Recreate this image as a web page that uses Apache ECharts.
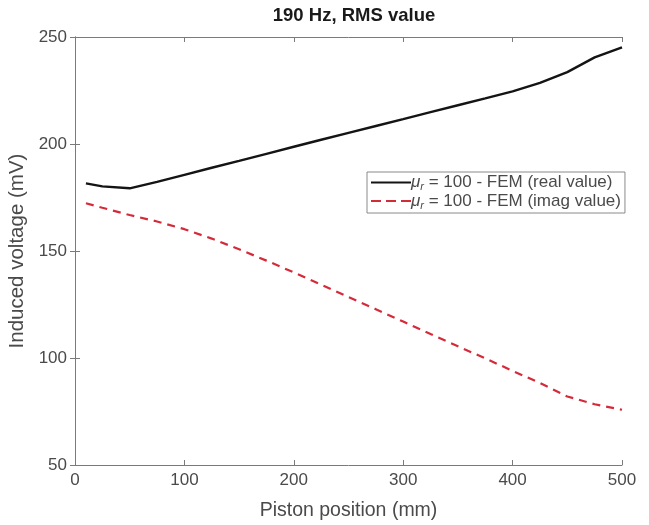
<!DOCTYPE html>
<html>
<head>
<meta charset="utf-8">
<script src="https://cdn.jsdelivr.net/npm/echarts@6/dist/echarts.min.js"></script>
<style>
  html, body { margin: 0; padding: 0; background: #fff; }
  #chart { width: 649px; height: 525px; }
</style>
</head>
<body>
<div id="chart"></div>
<script>
// Piston position (mm)
const positions = [10, 25, 50, 75, 100, 125, 150, 175, 200, 225, 250, 275, 300, 325, 350, 375, 400, 425, 450, 475, 500];
// Induced voltage (mV), real part
const realValues = [181.6, 180.2, 179.3, 182.3, 185.6, 188.9, 192.1, 195.4, 198.7, 202.0, 205.2, 208.4, 211.6, 214.9, 218.1, 221.3, 224.6, 228.6, 233.6, 240.5, 245.2];
// Induced voltage (mV), imaginary part
const imagValues = [172.3, 170.2, 166.8, 163.8, 160.2, 155.8, 150.8, 145.5, 140.0, 134.3, 128.5, 122.8, 117.0, 111.2, 105.5, 99.8, 94.0, 88.3, 82.0, 78.4, 75.8];

const realName = 'real';
const imagName = 'imag';

const pairs = (xs, ys) => xs.map((x, i) => [x, ys[i]]);

const font = 'Liberation Sans, Arial, Helvetica, sans-serif';
const axisColor = '#7a7a7a';
const textColor = '#4a4a4a';
const realColor = '#141414';
const imagColor = '#d42a3a';

const chart = echarts.init(document.getElementById('chart'), null, { renderer: 'canvas' });

const boxAxisX = (pos, showLabels) => ({
  type: 'value', position: pos, min: 0, max: 500, interval: 100,
  axisLine: { show: true, lineStyle: { color: axisColor, width: 1 } },
  axisTick: { show: true, inside: true, length: 5, lineStyle: { color: axisColor } },
  axisLabel: { show: showLabels, color: textColor, fontSize: 17, fontFamily: font, margin: 7 },
  splitLine: { show: false },
  name: showLabels ? 'Piston position (mm)' : '',
  nameLocation: 'middle', nameGap: 36,
  nameTextStyle: { color: textColor, fontSize: 19.5, fontFamily: font }
});

const boxAxisY = (pos, showLabels) => ({
  type: 'value', position: pos, min: 50, max: 250, interval: 50,
  axisLine: { show: true, lineStyle: { color: axisColor, width: 1 } },
  axisTick: { show: true, inside: true, length: 5, lineStyle: { color: axisColor } },
  axisLabel: { show: showLabels, color: textColor, fontSize: 17, fontFamily: font, margin: 8 },
  splitLine: { show: false },
  name: showLabels ? 'Induced voltage (mV)' : '',
  nameLocation: 'middle', nameGap: 44, nameRotate: 90,
  nameTextStyle: { color: textColor, fontSize: 20.5, fontFamily: font }
});

const legendRich = {
  mu: { fontSize: 17, fontFamily: font, fontStyle: 'italic', color: textColor },
  sub: { fontSize: 11, fontFamily: font, fontStyle: 'italic', color: textColor, padding: [9, 0, 0, 0] },
  t: { fontSize: 17, fontFamily: font, color: textColor }
};

const solidIcon = 'path://M0,0H40V2H0Z';
const dashIcon = 'path://M0,0H10V2H0Z M15,0H25V2H15Z M30,0H40V2H30Z';

chart.setOption({
  animation: false,
  backgroundColor: '#fff',
  title: {
    text: '190 Hz, RMS value',
    left: 349, top: 1, textAlign: 'center',
    textStyle: { fontSize: 18.5, fontWeight: 'bold', color: '#1a1a1a', fontFamily: font }
  },
  grid: { left: 75, right: 27, top: 37, bottom: 60, containLabel: false, outerBoundsMode: 'none' },
  xAxis: [boxAxisX('bottom', true), boxAxisX('top', false)],
  yAxis: [boxAxisY('left', true), boxAxisY('right', false)],
  legend: {
    orient: 'vertical',
    left: 367, top: 172,
    itemWidth: 40, itemHeight: 10, itemGap: 0,
    padding: [2, 4, 2, 4],
    backgroundColor: '#fff',
    borderColor: '#8a8a8a', borderWidth: 1,
    itemStyle: { borderWidth: 0 },
    lineStyle: { width: 0 },
    data: [
      { name: realName, icon: solidIcon },
      { name: imagName, icon: dashIcon }
    ],
    formatter: n => n === realName
      ? '{mu|μ}{sub|r}{t| = 100 - FEM (real value)}'
      : '{mu|μ}{sub|r}{t| = 100 - FEM (imag value)}',
    textStyle: { rich: legendRich, padding: [0, 0, 0, -5] }
  },
  series: [
    {
      name: realName, type: 'line', xAxisIndex: 0, yAxisIndex: 0,
      data: pairs(positions, realValues),
      showSymbol: false, symbol: 'none', smooth: false,
      lineStyle: { color: realColor, width: 2.4 },
      itemStyle: { color: realColor }
    },
    {
      name: imagName, type: 'line', xAxisIndex: 0, yAxisIndex: 0,
      data: pairs(positions, imagValues),
      showSymbol: false, symbol: 'none', smooth: false,
      lineStyle: { color: imagColor, width: 2.2, type: [8, 6] },
      itemStyle: { color: imagColor }
    }
  ]
});
</script>
</body>
</html>
